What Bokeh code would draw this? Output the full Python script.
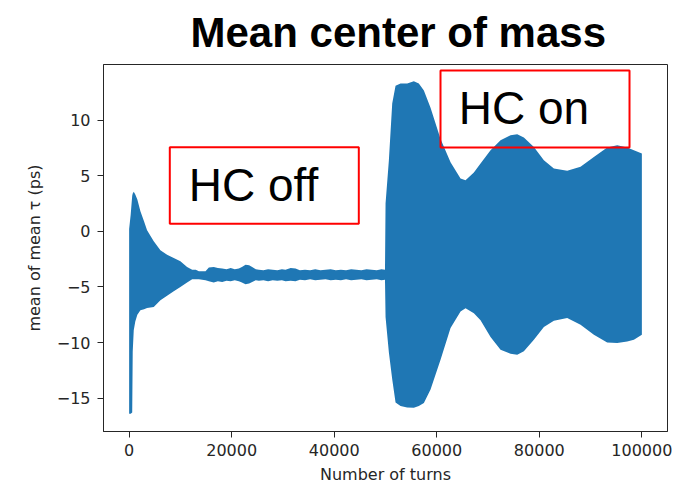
from bokeh.plotting import figure
from bokeh.models import (ColumnDataSource, Range1d, FixedTicker, Label,
                          BoxAnnotation, BasicTickFormatter)
from bokeh.embed import file_html
from bokeh.resources import INLINE

# Envelope of the mean centre-of-mass oscillation (upper / lower extent, ps)
turns = [
    0, 300, 600, 700, 900, 1200, 1600, 2200, 2900, 3500, 4800, 6100, 7400,
    8700, 10000, 11300, 12300, 13000, 13600, 14900, 15550, 16500, 17300,
    18150, 19000, 19800, 20600, 21400, 22000, 22700, 23400, 24000, 24700,
    25300, 26200, 27100, 28000, 28900, 29800, 30500, 31500, 32450, 33300,
    34300, 35300, 36300, 37300, 38300, 39300, 40300, 41300, 42300, 43300,
    44300, 45300, 46300, 47300, 48300, 49200, 49900,
    50010, 50660, 51310, 51960, 52930, 54230, 55530, 56500, 57485, 58785,
    60735, 62685, 64635, 65610, 67236, 68536, 70487, 72437, 74388, 75690,
    76987, 78938, 80889, 82839, 85440, 88040, 90640, 93242, 95192, 97143,
    98442, 100000,
]
tau_upper = [
    0.2, 1.5, 3.2, 3.4, 3.55, 3.3, 2.85, 1.8, 0.9, 0.1, -0.9, -1.7, -2.1,
    -2.4, -2.7, -3.2, -3.45, -3.45, -3.6, -3.6, -3.25, -3.2, -3.3,
    -3.35, -3.4, -3.3, -3.4, -3.35, -3.2, -3.0, -3.05, -3.2, -3.4,
    -3.45, -3.5, -3.4, -3.45, -3.5, -3.4, -3.45, -3.3, -3.35, -3.5,
    -3.45, -3.5, -3.4, -3.5, -3.45, -3.4, -3.5, -3.45, -3.5, -3.4,
    -3.45, -3.5, -3.4, -3.45, -3.5, -3.4, -3.45,
    2.5, 6.4, 11.5, 13.1, 13.3, 13.3, 13.5, 13.3, 12.67, 11.1,
    8.3, 6.2, 4.75, 4.6, 5.3, 6.09, 7.29, 8.19, 8.64, 8.72,
    8.43, 7.59, 6.39, 5.65, 5.44, 5.8, 6.69, 7.53, 7.74, 7.53,
    7.3, 6.99,
]
tau_lower = [
    -16.4, -16.4, -16.3, -10.8, -8.9, -8.1, -7.5, -7.1, -7.0, -6.9, -6.8,
    -6.2, -5.8, -5.4, -5.0, -4.6, -4.3, -4.3, -4.3, -4.4, -4.5, -4.6, -4.5,
    -4.55, -4.45, -4.5, -4.4, -4.5, -4.6, -4.75, -4.7, -4.55, -4.4,
    -4.45, -4.4, -4.5, -4.4, -4.45, -4.4, -4.5, -4.45, -4.5, -4.35,
    -4.4, -4.3, -4.4, -4.35, -4.3, -4.4, -4.35, -4.4, -4.3, -4.4,
    -4.35, -4.3, -4.4, -4.35, -4.3, -4.4, -4.35,
    -7.7, -10.9, -13.3, -15.4, -15.7, -15.85, -15.87, -15.7, -15.43, -14.23,
    -11.54, -8.7, -7.21, -6.91, -7.36, -8.0, -9.5, -10.64, -11.0, -11.09,
    -10.79, -9.75, -8.6, -8.05, -7.8, -8.4, -9.3, -9.99, -10.05, -9.9,
    -9.75, -9.3,
]

x_ticks = [0, 20000, 40000, 60000, 80000, 100000]
y_ticks = [-15, -10, -5, 0, 5, 10]
y_tick_labels = {-15: "\u221215", -10: "\u221210", -5: "\u22125",
                 0: "0", 5: "5", 10: "10"}

source = ColumnDataSource(data=dict(x=turns, upper=tau_upper, lower=tau_lower))

p = figure(width=679, height=490, output_backend="svg", toolbar_location=None,
           x_range=Range1d(-5000, 105000), y_range=Range1d(-18, 15),
           min_border_left=103, min_border_right=12,
           min_border_top=64, min_border_bottom=59)

p.varea(x="x", y1="lower", y2="upper", source=source, fill_color="#1f77b4")

ink = "#262626"
p.grid.visible = False
p.outline_line_color = ink
p.outline_line_width = 1
p.background_fill_color = "white"
p.border_fill_color = "white"

# Heading
p.title.text = "Mean center of mass"
p.title.align = "left"
p.title.offset = 87
p.title.vertical_align = "top"
p.title.standoff = 13
p.title.text_font = "Liberation Sans"
p.title.text_font_style = "bold"
p.title.text_font_size = "42px"
p.title.text_color = "black"

for ax in (p.xaxis[0], p.yaxis[0]):
    ax.axis_line_color = ink
    ax.major_tick_line_color = ink
    ax.major_tick_out = 6
    ax.major_tick_in = 0
    ax.minor_tick_line_color = None
    ax.major_label_text_font = "DejaVu Sans"
    ax.major_label_text_font_size = "16px"
    ax.major_label_text_color = ink
    ax.axis_label_text_font = "DejaVu Sans"
    ax.axis_label_text_font_size = "16px"
    ax.axis_label_text_font_style = "normal"
    ax.axis_label_text_color = ink

p.xaxis.ticker = FixedTicker(ticks=x_ticks)
p.xaxis.formatter = BasicTickFormatter(use_scientific=False)
p.yaxis.ticker = FixedTicker(ticks=y_ticks)
p.yaxis.major_label_overrides = y_tick_labels
p.xaxis.major_label_standoff = 6
p.yaxis.major_label_standoff = 7
p.xaxis.axis_label = "Number of turns"
p.yaxis.axis_label = "mean of mean \u03c4 (ps)"
p.xaxis.axis_label_standoff = 6
p.yaxis.axis_label_standoff = 10

# Regime boxes
for l, r, b, t in ((7931, 44794, 0.68, 7.56), (60728, 97591, 7.54, 14.46)):
    p.add_layout(BoxAnnotation(left=l, right=r, bottom=b, top=t,
                               fill_color=None, fill_alpha=0,
                               line_color="#ff0000", line_alpha=1.0,
                               line_width=2))

p.add_layout(Label(x=11620, y=4.17, text="HC off", text_font="Liberation Sans",
                   text_font_size="46px", text_color="black",
                   text_baseline="alphabetic"))
p.add_layout(Label(x=64280, y=11.06, text="HC on", text_font="Liberation Sans",
                   text_font_size="46px", text_color="black",
                   text_baseline="alphabetic"))

open("out.html", "w").write(file_html(p, INLINE))
